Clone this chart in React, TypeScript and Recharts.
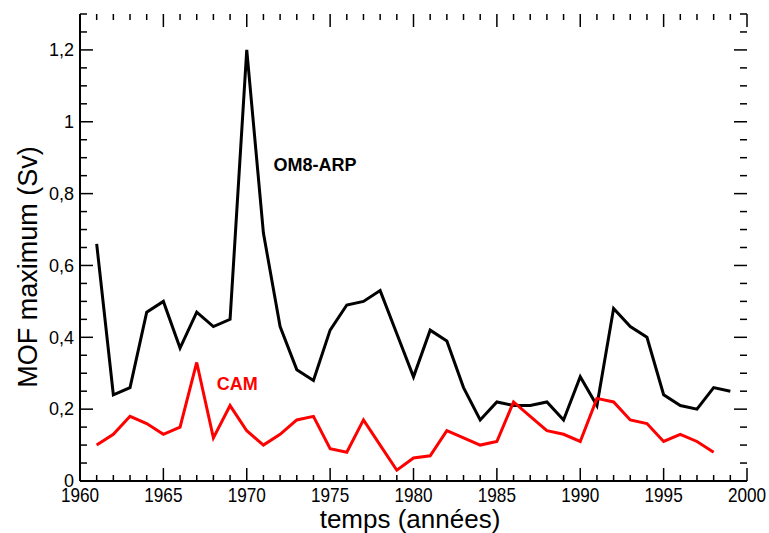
import { LineChart, Line, XAxis, YAxis, ReferenceDot, ReferenceLine } from 'recharts'

const years = [
  1961, 1962, 1963, 1964, 1965, 1966, 1967, 1968, 1969, 1970,
  1971, 1972, 1973, 1974, 1975, 1976, 1977, 1978, 1979, 1980,
  1981, 1982, 1983, 1984, 1985, 1986, 1987, 1988, 1989, 1990,
  1991, 1992, 1993, 1994, 1995, 1996, 1997, 1998, 1999,
]

// OM8-ARP, 1961-1999
const om8 = [
  0.66, 0.24, 0.26, 0.47, 0.5, 0.37, 0.47, 0.43, 0.45, 1.2,
  0.69, 0.43, 0.31, 0.28, 0.42, 0.49, 0.5, 0.53, 0.41, 0.29,
  0.42, 0.39, 0.26, 0.17, 0.22, 0.21, 0.21, 0.22, 0.17, 0.29,
  0.21, 0.48, 0.43, 0.4, 0.24, 0.21, 0.2, 0.26, 0.25,
]

// CAM, 1961-1998
const cam = [
  0.1, 0.13, 0.18, 0.16, 0.13, 0.15, 0.33, 0.12, 0.21, 0.14,
  0.1, 0.13, 0.17, 0.18, 0.09, 0.08, 0.17, 0.1, 0.03, 0.064,
  0.07, 0.14, 0.12, 0.1, 0.11, 0.22, 0.18, 0.14, 0.13, 0.11,
  0.23, 0.22, 0.17, 0.16, 0.11, 0.13, 0.11, 0.08,
]

const xTicks = [
  1960, 1961, 1962, 1963, 1964, 1965, 1966, 1967, 1968, 1969,
  1970, 1971, 1972, 1973, 1974, 1975, 1976, 1977, 1978, 1979,
  1980, 1981, 1982, 1983, 1984, 1985, 1986, 1987, 1988, 1989,
  1990, 1991, 1992, 1993, 1994, 1995, 1996, 1997, 1998, 1999, 2000,
]

const yTicks = [
  0, 0.05, 0.1, 0.15, 0.2, 0.25, 0.3, 0.35, 0.4, 0.45, 0.5, 0.55, 0.6, 0.65,
  0.7, 0.75, 0.8, 0.85, 0.9, 0.95, 1, 1.05, 1.1, 1.15, 1.2, 1.25, 1.3,
]

const notes = [
  { text: 'OM8-ARP', year: 1971.6, value: 0.863, color: '#000000' },
  { text: 'CAM', year: 1968.2, value: 0.253, color: '#ff0000' },
]

const data = years.map((year, i) => ({ year, om8: om8[i], cam: cam[i] }))

const FONT = '"Liberation Sans", Arial, Helvetica, sans-serif'
const X0 = 1960
const X1 = 2000
const Y0 = 0
const Y1 = 1.3
const PLOT_W = 667
const PLOT_H = 467
// tick lengths in px, converted to data units
const pxX = (px: number) => (px * (X1 - X0)) / PLOT_W
const pxY = (px: number) => (px * (Y1 - Y0)) / PLOT_H

const isMajorX = (v: number) => v % 5 === 0
const isMajorY = (v: number) => Math.round(v * 20) % 4 === 0
const fmtY = (v: number) => String(Math.round(v * 10) / 10).replace('.', ',')

function BottomTick({ x, y, payload }: any) {
  const v = payload.value
  if (!isMajorX(v)) return <g />
  return (
    <text
      transform={`translate(${x},${y + 21}) scale(0.86,1)`}
      textAnchor="middle"
      fontSize={20}
      fontFamily={FONT}
      fill="#000"
    >
      {v}
    </text>
  )
}

function LeftTick({ x, y, payload }: any) {
  const v = payload.value
  if (!isMajorY(v)) return <g />
  return (
    <text x={x - 6} y={y} dy="0.35em" textAnchor="end" fontSize={18} fontFamily={FONT} fill="#000">
      {fmtY(v)}
    </text>
  )
}

function tickMarks() {
  const out: any[] = []
  const seg = (key: string, a: any, b: any) => (
    <ReferenceLine key={key} segment={[a, b]} stroke="#000" strokeWidth={1.5} ifOverflow="visible" />
  )
  xTicks.forEach((v) => {
    const len = pxY(isMajorX(v) ? 13 : 6)
    out.push(seg(`b${v}`, { x: v, y: Y0 }, { x: v, y: Y0 + len }))
    out.push(seg(`t${v}`, { x: v, y: Y1 }, { x: v, y: Y1 - len }))
  })
  yTicks.forEach((v) => {
    const len = pxX(isMajorY(v) ? 13 : 7)
    out.push(seg(`l${v}`, { x: X0, y: v }, { x: X0 + len, y: v }))
    out.push(seg(`r${v}`, { x: X1, y: v }, { x: X1 - len, y: v }))
  })
  return out
}

export default function App() {
  const axisLine = { stroke: '#000', strokeWidth: 2 }
  return (
    <div style={{ position: 'absolute', left: 0, top: 0, background: '#fff' }}>
      <LineChart width={769} height={533} data={data} margin={{ top: 14, right: 22, bottom: 22, left: 20 }}>
        <XAxis
          dataKey="year"
          type="number"
          domain={[X0, X1]}
          ticks={xTicks}
          interval={0}
          tickSize={0}
          tickMargin={0}
          height={30}
          axisLine={axisLine}
          tickLine={false}
          tick={BottomTick}
        />
        <XAxis
          xAxisId="top"
          orientation="top"
          dataKey="year"
          type="number"
          domain={[X0, X1]}
          ticks={xTicks}
          interval={0}
          tickSize={0}
          tickMargin={0}
          height={0}
          axisLine={axisLine}
          tickLine={false}
          tick={false}
        />
        <YAxis
          type="number"
          domain={[Y0, Y1]}
          ticks={yTicks}
          interval={0}
          tickSize={0}
          tickMargin={0}
          width={60}
          axisLine={axisLine}
          tickLine={false}
          tick={LeftTick}
        />
        <YAxis
          yAxisId="right"
          orientation="right"
          type="number"
          domain={[Y0, Y1]}
          ticks={yTicks}
          interval={0}
          tickSize={0}
          tickMargin={0}
          width={0}
          axisLine={axisLine}
          tickLine={false}
          tick={false}
        />
        {tickMarks()}
        <Line
          type="linear"
          dataKey="om8"
          stroke="#000000"
          strokeWidth={3}
          dot={false}
          activeDot={false}
          isAnimationActive={false}
        />
        <Line
          type="linear"
          dataKey="cam"
          stroke="#ff0000"
          strokeWidth={3}
          dot={false}
          activeDot={false}
          isAnimationActive={false}
        />
        {notes.map((n) => (
          <ReferenceDot
            key={n.text}
            x={n.year}
            y={n.value}
            r={0}
            ifOverflow="visible"
            shape={(p: any) => (
              <text x={p.cx} y={p.cy} fontSize={18} fontWeight="bold" fontFamily={FONT} fill={n.color}>
                {n.text}
              </text>
            )}
          />
        ))}
        <text x={410} y={528} textAnchor="middle" fontSize={26} fontFamily={FONT} fill="#000">
          temps (années)
        </text>
        <text
          x={28}
          y={267}
          transform="rotate(-90,28,267)"
          textAnchor="middle"
          dominantBaseline="central"
          fontSize={27}
          fontFamily={FONT}
          fill="#000"
        >
          MOF maximum (Sv)
        </text>
      </LineChart>
    </div>
  )
}
